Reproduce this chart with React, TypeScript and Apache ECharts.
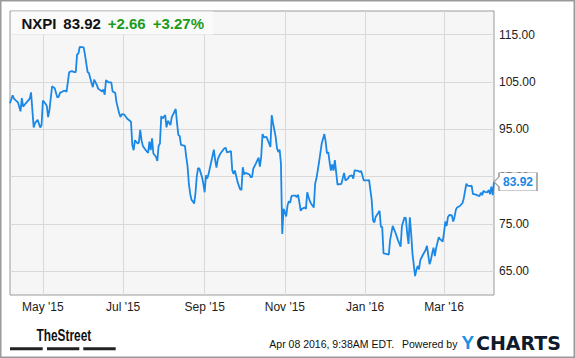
import React, { useEffect, useRef } from 'react';
import * as echarts from 'echarts';

const ticker = 'NXPI';
const lastPriceText = '83.92';
const changeText = '+2.66';
const changePctText = '+3.27%';
const stampText = 'Apr 08 2016, 9:38AM EDT.';
const poweredText = 'Powered by';

const rangeStart = '2015-04-06';
const rangeEnd = '2016-04-08';

const dates: string[] = [
  '2015-04-06','2015-04-08','2015-04-09','2015-04-12','2015-04-14','2015-04-15','2015-04-16','2015-04-18','2015-04-21','2015-04-22',
  '2015-04-24','2015-04-25','2015-04-27','2015-04-29','2015-04-30','2015-05-01','2015-05-03','2015-05-04','2015-05-05','2015-05-06',
  '2015-05-08','2015-05-10','2015-05-12','2015-05-13','2015-05-14','2015-05-16','2015-05-18','2015-05-19','2015-05-21','2015-05-23',
  '2015-05-25','2015-05-26','2015-05-27','2015-05-28','2015-05-29','2015-06-01','2015-06-02','2015-06-04','2015-06-05','2015-06-07',
  '2015-06-08','2015-06-09','2015-06-11','2015-06-12','2015-06-15','2015-06-16','2015-06-17','2015-06-18','2015-06-20','2015-06-22',
  '2015-06-23','2015-06-25','2015-06-26','2015-06-28','2015-06-29','2015-06-30','2015-07-02','2015-07-04','2015-07-07','2015-07-08',
  '2015-07-09','2015-07-10','2015-07-12','2015-07-13','2015-07-14','2015-07-15','2015-07-16','2015-07-18','2015-07-20','2015-07-21',
  '2015-07-22','2015-07-23','2015-07-24','2015-07-26','2015-07-27','2015-07-28','2015-07-29','2015-07-30','2015-07-31','2015-08-02',
  '2015-08-03','2015-08-04','2015-08-06','2015-08-07','2015-08-10','2015-08-11','2015-08-12','2015-08-13','2015-08-14','2015-08-17',
  '2015-08-18','2015-08-19','2015-08-20','2015-08-21','2015-08-22','2015-08-23','2015-08-24','2015-08-25','2015-08-26','2015-08-27',
  '2015-08-28','2015-08-30','2015-08-31','2015-09-01','2015-09-02','2015-09-03','2015-09-04','2015-09-06','2015-09-08','2015-09-09',
  '2015-09-10','2015-09-11','2015-09-13','2015-09-16','2015-09-17','2015-09-18','2015-09-21','2015-09-22','2015-09-23','2015-09-24',
  '2015-09-26','2015-09-28','2015-09-29','2015-09-30','2015-10-01','2015-10-02','2015-10-05','2015-10-06','2015-10-07','2015-10-08',
  '2015-10-10','2015-10-12','2015-10-13','2015-10-14','2015-10-15','2015-10-16','2015-10-18','2015-10-20','2015-10-21','2015-10-22',
  '2015-10-23','2015-10-25','2015-10-26','2015-10-27','2015-10-28','2015-10-29','2015-10-30','2015-10-31','2015-11-01','2015-11-02',
  '2015-11-03','2015-11-04','2015-11-05','2015-11-06','2015-11-07','2015-11-09','2015-11-10','2015-11-11','2015-11-12','2015-11-13',
  '2015-11-14','2015-11-16','2015-11-17','2015-11-18','2015-11-19','2015-11-20','2015-11-21','2015-11-23','2015-11-24','2015-11-25',
  '2015-11-27','2015-11-29','2015-12-01','2015-12-02','2015-12-03','2015-12-04','2015-12-05','2015-12-06','2015-12-07','2015-12-08',
  '2015-12-09','2015-12-11','2015-12-12','2015-12-14','2015-12-16','2015-12-17','2015-12-19','2015-12-20','2015-12-22','2015-12-23',
  '2015-12-24','2015-12-25','2015-12-27','2015-12-28','2015-12-29','2015-12-31','2016-01-01','2016-01-03','2016-01-04','2016-01-06',
  '2016-01-07','2016-01-08','2016-01-09','2016-01-12','2016-01-13','2016-01-14','2016-01-15','2016-01-17','2016-01-19','2016-01-20',
  '2016-01-22','2016-01-24','2016-01-26','2016-01-28','2016-01-29','2016-01-30','2016-01-31','2016-02-01','2016-02-02','2016-02-03',
  '2016-02-04','2016-02-05','2016-02-06','2016-02-08','2016-02-09','2016-02-10','2016-02-11','2016-02-12','2016-02-14','2016-02-16',
  '2016-02-17','2016-02-18','2016-02-19','2016-02-20','2016-02-21','2016-02-22','2016-02-23','2016-02-24','2016-02-26','2016-02-27',
  '2016-02-29','2016-03-01','2016-03-02','2016-03-03','2016-03-04','2016-03-05','2016-03-07','2016-03-08','2016-03-09','2016-03-10',
  '2016-03-11','2016-03-13','2016-03-15','2016-03-16','2016-03-17','2016-03-18','2016-03-19','2016-03-21','2016-03-22','2016-03-23',
  '2016-03-24','2016-03-26','2016-03-28','2016-03-29','2016-03-30','2016-03-31','2016-04-01','2016-04-03','2016-04-04','2016-04-05',
  '2016-04-06','2016-04-07','2016-04-08'
];

const prices: number[] = [
  100.5,102.2,101.5,100.7,98.8,101.6,99.8,100.5,101.5,102.8,
  95.4,96.3,97.0,95.4,95.9,101.1,100.4,99.9,97.6,99.1,
  104.1,103.7,101.7,101.9,102.7,103.0,103.2,102.9,107.1,107.3,
  107.1,107.1,110.8,111.0,112.4,112.3,110.8,107.1,106.9,104.8,
  103.9,105.5,104.4,103.6,103.0,103.4,102.3,105.4,104.9,104.9,
  103.0,102.7,100.7,98.4,97.6,98.2,98.1,97.3,96.6,91.7,
  90.6,92.7,92.0,92.2,94.9,92.7,91.5,90.7,90.0,92.4,
  90.6,93.1,89.9,89.2,88.3,91.5,92.0,97.8,97.3,98.0,
  95.4,96.8,95.9,97.6,99.3,96.3,93.8,93.6,91.7,91.5,
  89.2,87.2,83.5,81.4,80.1,79.8,79.3,81.4,85.0,86.8,
  86.7,84.9,83.5,81.7,85.3,84.6,85.6,88.1,90.7,88.5,
  86.9,88.7,89.9,91.0,91.1,90.1,90.4,86.3,85.6,86.3,
  83.9,82.3,82.2,87.0,85.5,85.8,85.5,84.9,84.9,86.7,
  87.8,89.0,87.1,89.2,94.0,93.3,93.4,92.0,91.3,98.0,
  96.3,93.4,91.0,90.2,90.7,87.8,72.9,78.2,77.5,76.6,
  78.9,79.8,79.5,80.9,81.0,81.0,80.7,81.2,79.6,77.8,
  78.2,78.5,78.2,81.7,80.7,79.8,79.3,78.5,83.5,84.6,
  88.1,92.0,94.0,92.4,89.9,90.2,88.1,86.3,87.6,86.3,
  88.5,83.3,83.4,83.5,85.8,84.2,84.6,85.1,85.3,84.6,
  86.3,86.3,86.2,86.0,86.2,84.2,84.2,84.2,84.3,80.1,
  75.8,75.3,76.5,77.8,74.4,74.4,68.8,68.7,68.5,71.6,
  74.6,73.2,71.6,70.2,74.6,75.5,76.4,76.2,73.0,70.8,
  76.4,73.0,68.8,64.0,65.3,66.1,65.4,67.4,68.5,69.5,
  70.4,68.5,66.5,67.4,68.8,70.0,68.2,69.9,72.2,71.8,
  71.3,73.2,75.5,74.6,76.5,76.9,76.8,75.5,76.5,78.0,
  78.5,78.8,79.4,80.4,82.0,83.5,83.1,83.0,83.1,81.3,
  81.3,81.1,80.9,81.6,81.1,82.0,81.8,81.7,82.2,81.3,
  82.9,81.1,83.92
];

const tickDates: string[] = ['2015-05-01', '2015-07-01', '2015-09-01', '2015-11-01', '2016-01-01', '2016-03-01'];
const yTicks: number[] = [65, 75, 85, 95, 105, 115];
const monthNames: string[] = ['Jan', 'Feb', 'Mar', 'Apr', 'May', 'Jun', 'Jul', 'Aug', 'Sep', 'Oct', 'Nov', 'Dec'];

const toTs = (s: string): number => {
  const [y, m, d] = s.split('-').map(Number);
  return new Date(y, m - 1, d).getTime();
};

const FONT = 'Liberation Sans, Arial, sans-serif';
const LINE_BLUE = '#1a88e6';
const GREEN = '#1a9c1a';

export default function App() {
  const ref = useRef<HTMLDivElement>(null);

  useEffect(() => {
    if (!ref.current) return;
    const chart = echarts.init(ref.current, undefined, { renderer: 'svg' });
    const seriesData = dates.map((d, i) => [toTs(d), prices[i]]);
    const tickTs = tickDates.map(toTs);
    const last = seriesData[seriesData.length - 1];

    chart.setOption({
      animation: false,
      backgroundColor: '#ffffff',
      textStyle: { fontFamily: FONT },
      grid: {
        left: 10,
        right: 81,
        top: 11,
        bottom: 63,
        show: true,
        backgroundColor: '#f6f6f6',
        borderColor: '#9a9a9a',
        borderWidth: 1,
      },
      xAxis: {
        type: 'value',
        min: toTs(rangeStart),
        max: toTs(rangeEnd),
        axisLine: { show: false },
        axisTick: { show: false, customValues: tickTs },
        axisLabel: {
          customValues: tickTs,
          fontSize: 12,
          color: '#222',
          margin: 6,
          fontFamily: FONT,
          formatter: (v: number) => {
            const dt = new Date(v);
            return monthNames[dt.getMonth()] + " '" + String(dt.getFullYear()).slice(2);
          },
        },
        splitLine: { show: true, lineStyle: { color: '#d9d9d9', width: 1 } },
      },
      yAxis: {
        type: 'value',
        position: 'right',
        min: 60,
        max: 120,
        axisLine: { show: false },
        axisTick: { show: false, customValues: yTicks },
        axisLabel: {
          customValues: yTicks,
          fontSize: 12,
          color: '#222',
          margin: 5,
          fontFamily: FONT,
          formatter: (v: number) => v.toFixed(2),
        },
        splitLine: { show: true, lineStyle: { color: '#d9d9d9', width: 1 } },
      },
      series: [
        {
          type: 'line',
          data: seriesData,
          showSymbol: false,
          symbol: 'none',
          lineStyle: { color: LINE_BLUE, width: 1.8 },
          markPoint: {
            silent: true,
            symbol: 'path://M0,9 L5,4 L5,0 L43,0 L43,18 L5,18 L5,14 Z',
            symbolSize: [43, 18],
            symbolOffset: [21.5, 0],
            itemStyle: { color: '#ffffff', borderColor: '#999999', borderWidth: 1 },
            label: {
              show: true,
              position: 'inside',
              formatter: () => (last[1] as number).toFixed(2),
              color: LINE_BLUE,
              fontWeight: 'bold',
              fontSize: 12,
              fontFamily: FONT,
              offset: [2.5, 0],
            },
            data: [{ coord: last, value: last[1] }],
          },
        },
      ],
      graphic: [
        { type: 'rect', z: 1, silent: true, shape: { x: 0.75, y: 0.75, width: 573.5, height: 356.5 }, style: { fill: 'none', stroke: '#9a9a9a', lineWidth: 1.5 } },
        { type: 'rect', z: 10, silent: true, shape: { x: 11, y: 11.5, width: 202, height: 23 }, style: { fill: '#fafafa' } },
        { type: 'text', z: 11, x: 21.5, y: 23.5, style: { text: ticker, fill: '#111', fontSize: 15, fontWeight: 'bold', fontFamily: FONT, textVerticalAlign: 'middle' } },
        { type: 'text', z: 11, x: 63.3, y: 23.5, style: { text: lastPriceText, fill: '#111', fontSize: 15, fontWeight: 'bold', fontFamily: FONT, textVerticalAlign: 'middle' } },
        { type: 'text', z: 11, x: 107.7, y: 23.5, style: { text: changeText, fill: GREEN, fontSize: 15, fontWeight: 'bold', fontFamily: FONT, textVerticalAlign: 'middle' } },
        { type: 'text', z: 11, x: 152.7, y: 23.5, style: { text: changePctText, fill: GREEN, fontSize: 15, fontWeight: 'bold', fontFamily: FONT, textVerticalAlign: 'middle' } },
        { type: 'text', z: 11, x: 36.5, y: 335.5, scaleX: 0.72, style: { text: 'TheStreet', fill: '#111', fontSize: 16.5, fontWeight: 'bold', fontFamily: FONT, textVerticalAlign: 'middle' } },
        { type: 'rect', z: 11, shape: { x: 10, y: 347.3, width: 32.7, height: 3 }, style: { fill: '#222' } },
        { type: 'rect', z: 11, shape: { x: 47, y: 347.3, width: 32.3, height: 3 }, style: { fill: '#222' } },
        { type: 'rect', z: 11, shape: { x: 83.3, y: 347.3, width: 32.4, height: 3 }, style: { fill: '#222' } },
        { type: 'text', z: 11, x: 269.3, y: 344, style: { text: stampText, fill: '#111', fontSize: 10.5, fontFamily: FONT, textVerticalAlign: 'middle' } },
        { type: 'text', z: 11, x: 402, y: 344, style: { text: poweredText, fill: '#111', fontSize: 10.5, fontFamily: FONT, textVerticalAlign: 'middle' } },
        { type: 'text', z: 11, x: 461.5, y: 342.5, style: { text: 'Y', fill: '#1b8fe6', fontSize: 19, fontWeight: 'bold', fontFamily: FONT, textVerticalAlign: 'middle' } },
        { type: 'text', z: 11, x: 476, y: 342.5, style: { text: 'CHARTS', fill: '#0f1a2b', fontSize: 19, fontWeight: 'bold', fontFamily: 'DejaVu Sans, sans-serif', textVerticalAlign: 'middle' } },
      ],
    });

    return () => chart.dispose();
  }, []);

  return (
    <div
      ref={ref}
      style={{ position: 'fixed', left: 0, top: 0, width: 575, height: 358, background: '#fff' }}
    />
  );
}
